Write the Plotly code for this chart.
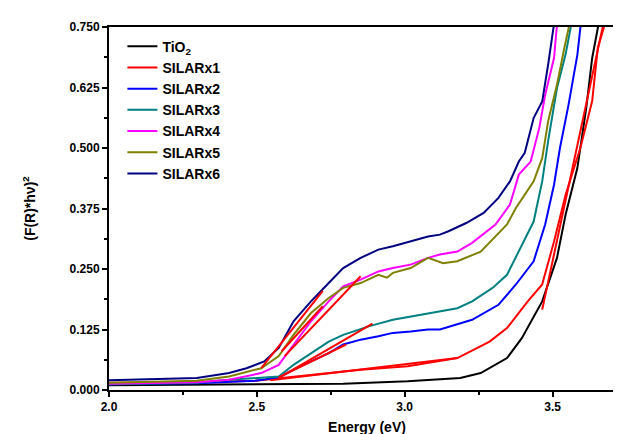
import plotly.graph_objects as go

# ---------------- data ----------------
names = ["TiO<sub>2</sub>", "SILARx1", "SILARx2", "SILARx3", "SILARx4", "SILARx5", "SILARx6"]
colors = ["#000000", "#FF0000", "#0000FF", "#008080", "#FF00FF", "#808000", "#000080"]

tio2_x = [2.00, 2.396, 2.792, 3.010, 3.188, 3.257, 3.346, 3.396, 3.465, 3.515, 3.544, 3.584, 3.614, 3.634, 3.653, 3.663]
tio2_y = [0.010, 0.011, 0.013, 0.018, 0.025, 0.035, 0.066, 0.107, 0.183, 0.273, 0.362, 0.459, 0.583, 0.686, 0.748, 0.780]

s1_x = [2.00, 2.297, 2.495, 2.584, 2.693, 2.851, 3.010, 3.178, 3.287, 3.346, 3.416, 3.465, 3.505, 3.544, 3.594, 3.634, 3.653, 3.673, 3.683]
s1_y = [0.015, 0.016, 0.019, 0.025, 0.031, 0.042, 0.049, 0.066, 0.100, 0.128, 0.183, 0.218, 0.307, 0.403, 0.500, 0.597, 0.707, 0.748, 0.780]

s2_x = [2.00, 2.297, 2.495, 2.574, 2.624, 2.683, 2.743, 2.792, 2.851, 2.911, 2.960, 3.020, 3.079, 3.119, 3.178, 3.228, 3.317, 3.376, 3.436, 3.475, 3.505, 3.525, 3.554, 3.584, 3.594, 3.604]
s2_y = [0.012, 0.014, 0.019, 0.026, 0.042, 0.059, 0.076, 0.094, 0.104, 0.111, 0.118, 0.121, 0.125, 0.125, 0.135, 0.145, 0.176, 0.218, 0.266, 0.342, 0.424, 0.500, 0.589, 0.693, 0.748, 0.780]

s3_x = [2.00, 2.297, 2.406, 2.574, 2.624, 2.683, 2.743, 2.792, 2.881, 2.960, 3.020, 3.079, 3.119, 3.178, 3.228, 3.297, 3.346, 3.386, 3.436, 3.465, 3.485, 3.515, 3.544, 3.561, 3.570]
s3_y = [0.012, 0.015, 0.021, 0.028, 0.052, 0.076, 0.100, 0.114, 0.132, 0.145, 0.152, 0.159, 0.163, 0.169, 0.183, 0.211, 0.238, 0.286, 0.348, 0.431, 0.514, 0.624, 0.693, 0.748, 0.780]

s4_x = [2.00, 2.297, 2.406, 2.515, 2.574, 2.624, 2.683, 2.743, 2.792, 2.851, 2.911, 2.960, 3.020, 3.079, 3.119, 3.178, 3.228, 3.307, 3.356, 3.386, 3.426, 3.455, 3.475, 3.505, 3.514, 3.525]
s4_y = [0.013, 0.016, 0.021, 0.035, 0.052, 0.094, 0.142, 0.183, 0.214, 0.228, 0.245, 0.252, 0.259, 0.273, 0.280, 0.286, 0.304, 0.342, 0.383, 0.445, 0.472, 0.541, 0.610, 0.686, 0.748, 0.780]

s5_x = [2.00, 2.297, 2.406, 2.515, 2.574, 2.624, 2.683, 2.743, 2.792, 2.851, 2.911, 2.940, 2.960, 3.020, 3.079, 3.130, 3.178, 3.257, 3.346, 3.376, 3.436, 3.465, 3.485, 3.515, 3.540, 3.554, 3.566]
s5_y = [0.015, 0.019, 0.028, 0.045, 0.070, 0.114, 0.159, 0.190, 0.211, 0.221, 0.238, 0.232, 0.242, 0.252, 0.273, 0.262, 0.266, 0.286, 0.342, 0.376, 0.431, 0.479, 0.555, 0.631, 0.707, 0.748, 0.780]

s6_x = [2.00, 2.297, 2.406, 2.465, 2.525, 2.574, 2.624, 2.683, 2.743, 2.792, 2.851, 2.911, 2.960, 3.020, 3.079, 3.119, 3.148, 3.208, 3.267, 3.317, 3.356, 3.386, 3.406, 3.436, 3.465, 3.485, 3.503, 3.515]
s6_y = [0.020, 0.025, 0.035, 0.045, 0.059, 0.087, 0.142, 0.183, 0.221, 0.252, 0.273, 0.290, 0.297, 0.307, 0.317, 0.321, 0.328, 0.345, 0.366, 0.397, 0.431, 0.472, 0.490, 0.562, 0.596, 0.672, 0.748, 0.780]

series_x = [tio2_x, s1_x, s2_x, s3_x, s4_x, s5_x, s6_x]
series_y = [tio2_y, s1_y, s2_y, s3_y, s4_y, s5_y, s6_y]

# linear (Tauc) fit segments, drawn in red
fit_x = [[3.465, 3.673], [2.545, 3.178], [2.574, 2.802], [2.574, 2.891], [2.594, 2.851], [2.584, 2.723], [2.515, 2.723]]
fit_y = [[0.166, 0.760], [0.020, 0.066], [0.026, 0.094], [0.025, 0.137], [0.070, 0.235], [0.080, 0.173], [0.045, 0.205]]

x_ticks = [2.0, 2.5, 3.0, 3.5]
y_ticks = [0.0, 0.125, 0.25, 0.375, 0.5, 0.625, 0.75]

# ---------------- figure ----------------
fig = go.Figure()
for nm, col, xs, ys in zip(names, colors, series_x, series_y):
    fig.add_trace(go.Scatter(x=xs, y=ys, name=nm, mode="lines",
                             line=dict(color=col, width=2)))
for fx, fy in zip(fit_x, fit_y):
    fig.add_trace(go.Scatter(x=fx, y=fy, mode="lines", showlegend=False,
                             line=dict(color="#FF0000", width=2)))

font_fam = "Liberation Sans, Arial, sans-serif"
axis_common = dict(showline=True, linewidth=2, linecolor="black", mirror=True,
                   ticks="outside", ticklen=5, tickwidth=1.5, tickcolor="black",
                   showgrid=False, zeroline=False,
                   tickfont=dict(family=font_fam, size=12, color="black", weight="bold"))

fig.update_layout(
    width=621, height=434,
    margin=dict(l=101, r=2, t=19, b=52),
    paper_bgcolor="white", plot_bgcolor="white",
    font=dict(family=font_fam, color="black"),
    showlegend=True,
    legend=dict(x=0.026, y=0.99, xanchor="left", yanchor="top",
                bgcolor="rgba(0,0,0,0)", borderwidth=0,
                font=dict(family=font_fam, size=14, color="black", weight="bold"),
                tracegroupgap=0),
    xaxis=dict(range=[2.0, 3.745], tickvals=x_ticks, tickformat=".1f",
               minor=dict(dtick=0.25, tick0=2.0, ticks="outside", ticklen=3, tickcolor="black", showgrid=False),
               title=dict(text="Energy (eV)", standoff=9,
                          font=dict(family=font_fam, size=14, color="black", weight="bold")),
               **axis_common),
    yaxis=dict(range=[0, 0.75], tickvals=y_ticks, tickformat=".3f",
               minor=dict(dtick=0.0625, tick0=0, ticks="outside", ticklen=3, tickcolor="black", showgrid=False),
               title=dict(text="(F(R)*hν)<sup>2</sup>", standoff=31,
                          font=dict(family=font_fam, size=14, color="black", weight="bold")),
               **axis_common),
)

fig.write_html("out.html")
